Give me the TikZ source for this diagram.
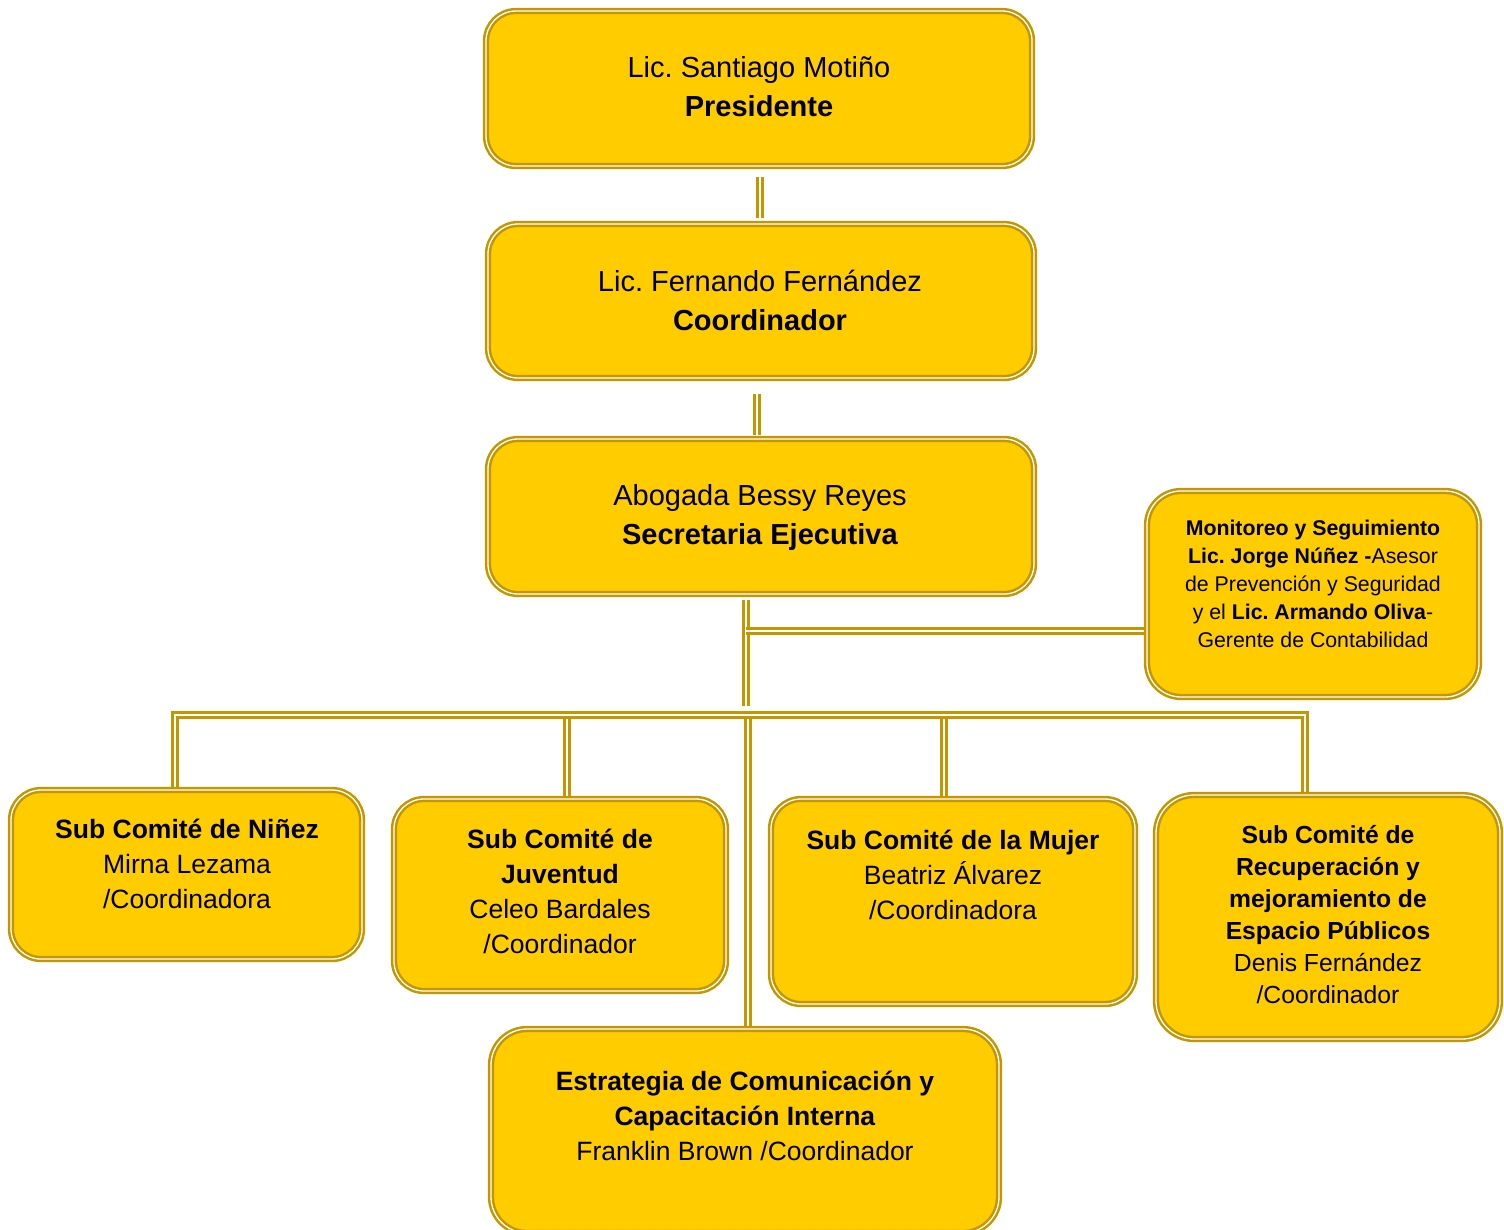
\documentclass[tikz,border=0pt]{standalone}
\usepackage{fontspec}
\setmainfont{Liberation Sans}
\frenchspacing
\definecolor{gold}{RGB}{196,150,0}
\definecolor{boxfill}{RGB}{255,204,0}
\tikzset{
  box/.style={rectangle, draw=gold, double=white, line width=2.5pt, double distance=1.3pt,
    fill=boxfill, inner sep=0pt, rounded corners=#1},
  box/.default=30pt,
  conn/.style={draw=gold, double=white, line width=2.4pt, double distance=2.4pt},
  txt/.style={align=center, inner sep=0pt, text=black},
  big/.style={font=\fontsize{29}{39}\selectfont},
  mid/.style={font=\fontsize{26.5}{35}\selectfont},
  smallish/.style={font=\fontsize{24.7}{32}\selectfont},
  tiny/.style={font=\fontsize{21.3}{28}\selectfont}
}
\begin{document}
\begin{tikzpicture}[x=1pt,y=-1pt]
\useasboundingbox (0,0) rectangle (1504,1229);
\coordinate (pcA) at (760,177);
\coordinate (pcB) at (760,218);
\coordinate (csA) at (757,394);
\coordinate (csB) at (757,435);
\coordinate (sdA) at (746,600);
\coordinate (sdB) at (746,706);
\coordinate (br) at (746,631);
\coordinate (brM) at (1150,631);
\coordinate (nTop) at (175,792);
\coordinate (barL) at (175,715);
\coordinate (barR) at (1305,715);
\coordinate (rTop) at (1305,797);
\coordinate (jA) at (567,719);
\coordinate (jB) at (567,799);
\coordinate (eA) at (748,719);
\coordinate (eB) at (748,1030);
\coordinate (muA) at (944,719);
\coordinate (muB) at (944,799);
% connectors
\draw[conn] (pcA) -- (pcB);
\draw[conn] (csA) -- (csB);
\draw[conn] (sdA) -- (sdB);
\draw[conn] (br) -- (brM);
\draw[conn] (nTop) -- (barL) -- (barR) -- (rTop);
\draw[conn] (jA) -- (jB);
\draw[conn] (eA) -- (eB);
\draw[conn] (muA) -- (muB);
% boxes
\node[box, minimum width=546pt, minimum height=155pt] (p) at (759,88.5) {};
\node[box, minimum width=546pt, minimum height=154pt] (c) at (761,301) {};
\node[box, minimum width=546pt, minimum height=155pt] (s) at (761,516.5) {};
\node[box=34pt, minimum width=332pt, minimum height=206pt] (m) at (1313,594) {};
\node[box, minimum width=351pt, minimum height=169pt] (n) at (186.5,874.5) {};
\node[box, minimum width=332pt, minimum height=192pt] (j) at (560,895) {};
\node[box, minimum width=364pt, minimum height=205pt] (mu) at (953,901.5) {};
\node[box=38pt, minimum width=344pt, minimum height=244pt] (r) at (1328,917) {};
\node[box=36pt, minimum width=508pt, minimum height=204pt] (e) at (745,1131) {};
% texts
\node[txt, big] (tp) at (759,87) {Lic. Santiago Motiño\\\textbf{Presidente}};
\node[txt, big] (tc) at (760,300) {Lic. Fernando Fernández\\\textbf{Coordinador}};
\node[txt, big] (ts) at (760,517) {Abogada Bessy Reyes\\\textbf{Secretaria Ejecutiva}};
\node[txt, tiny] (tm) at (1313,584) {\textbf{Monitoreo y Seguimiento}\\\textbf{Lic. Jorge Núñez -}Asesor\\de Prevención y Seguridad\\y el \textbf{Lic. Armando Oliva}-\\Gerente de Contabilidad};
\node[txt, mid] (tn) at (187,864) {\textbf{Sub Comité de Niñez}\\Mirna Lezama\\/Coordinadora};
\node[txt, mid] (tj) at (560,891.5) {\textbf{Sub Comité de}\\\textbf{Juventud}\\Celeo Bardales\\/Coordinador};
\node[txt, mid] (tmu) at (953,875) {\textbf{Sub Comité de la Mujer}\\Beatriz Álvarez\\/Coordinadora};
\node[txt, smallish] (tr) at (1328,914.5) {\textbf{Sub Comité de}\\\textbf{Recuperación y}\\\textbf{mejoramiento de}\\\textbf{Espacio Públicos}\\Denis Fernández\\/Coordinador};
\node[txt, mid] (te) at (745,1115.5) {\textbf{Estrategia de Comunicación y}\\\textbf{Capacitación Interna}\\Franklin Brown /Coordinador};
\end{tikzpicture}
\end{document}
